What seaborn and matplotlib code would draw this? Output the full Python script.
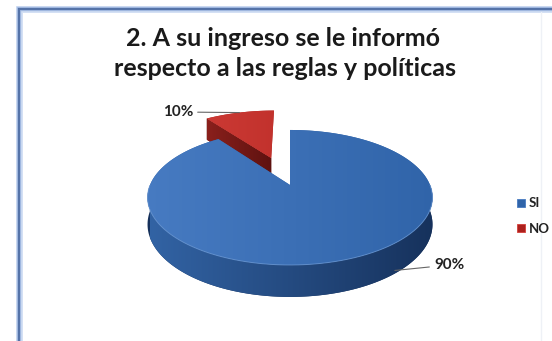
import numpy as np
import matplotlib
matplotlib.use("Agg")
import matplotlib.pyplot as plt
import seaborn as sns
from matplotlib.patches import Polygon, Patch
from matplotlib.colors import LinearSegmentedColormap

# ---------------- data ----------------
categories = ["SI", "NO"]
values = [90, 10]
pct_labels = ["90%", "10%"]
title_lines = ["2. A su ingreso se le informó", "respecto a las reglas y políticas"]

top_colors = {"SI": ("#477BC2", "#3064A9"), "NO": ("#D4403A", "#AC211D")}
side_colors = {"SI": ("#3263A4", "#16315B"), "NO": ("#8A201C", "#5E1210")}

sns.set_theme(style="white")
plt.rcParams["font.family"] = ["Lato", "DejaVu Sans"]

W, H = 552, 341
fig = plt.figure(figsize=(W / 100, H / 100), dpi=100)
fig.patch.set_facecolor("white")

bg = fig.add_axes([0, 0, 1, 1])
bg.set_xlim(0, W)
bg.set_ylim(H, 0)
bg.axis("off")

# frame (light blue glow + darker line)
for lw, col in [(5.0, "#D3E0F4"), (3.2, "#A9C0E6"), (1.6, "#5573A8")]:
    bg.plot([19, 19, W + 5], [H + 5, 9, 9], color=col, lw=lw, solid_joinstyle="miter", zorder=1)
bg.plot([541, 541], [12, H], color="#EEF1F6", lw=1.0, zorder=1)

# title
fig.text(283 / W, 1 - 38 / H, title_lines[0], ha="center", va="center",
         fontsize=18, fontweight="bold", color="#1A1A1A")
fig.text(285 / W, 1 - 68 / H, title_lines[1], ha="center", va="center",
         fontsize=18, fontweight="bold", color="#1A1A1A")

# ---------------- pie via matplotlib/seaborn ----------------
axp = fig.add_axes([0.3, 0.3, 0.2, 0.2])
wedges, _ = axp.pie(values, startangle=90, counterclock=False,
                    explode=[0, 0.47], radius=1)
axp.set_visible(False)

# perspective projection of the unit-disk pie onto the page
CX, CY, RX, RY, K, D = 290, 185, 140, 65.2, 0.185, 26


def proj(x, y, z=0.0):
    x = np.asarray(x, float)
    y = np.asarray(y, float)
    s = 1.0 / (1.0 + K * y)
    return CX + RX * x * s, CY - RY * y * s + D * z * s


def grad_fill(poly_xy, c0, c1, zorder, x0=None, x1=None):
    poly = Polygon(np.column_stack(poly_xy), closed=True, facecolor=c1,
                   edgecolor="none", zorder=zorder)
    bg.add_patch(poly)
    xs, ys = poly_xy
    x0 = xs.min() if x0 is None else x0
    x1 = xs.max() if x1 is None else x1
    cmap = LinearSegmentedColormap.from_list("g", [c0, c1])
    img = np.linspace(0, 1, 256)[None, :]
    im = bg.imshow(img, cmap=cmap, aspect="auto",
                   extent=(x0, x1, ys.max() + 1, ys.min() - 1),
                   zorder=zorder + 0.01, interpolation="bilinear")
    im.set_clip_path(poly)
    return poly


order = sorted(range(len(wedges)),
               key=lambda i: -np.sin(np.radians((wedges[i].theta1 + wedges[i].theta2) / 2)))
z = 2
for i in order:
    w = wedges[i]
    name = categories[i]
    ox, oy = w.center
    t1, t2 = w.theta1, w.theta2
    th = np.radians(np.linspace(t1, t2, 400))
    # radial cut faces
    for phi, sign in [(t2, 1), (t1, -1)]:
        p = np.radians(phi)
        ny_dir = sign * np.cos(p)
        if ny_dir < -1e-6:
            ex, ey = ox + np.cos(p), oy + np.sin(p)
            xs = np.array([ox, ex, ex, ox])
            ys = np.array([oy, ey, ey, oy])
            zs = np.array([0, 0, 1, 1])
            px, py = proj(xs, ys, zs)
            grad_fill((px, py), side_colors[name][0], side_colors[name][1], z)
    # outer curved side
    vis = np.sin(th) < 0
    if vis.any():
        tv = th[vis]
        ax_, ay_ = ox + np.cos(tv), oy + np.sin(tv)
        tx, ty = proj(ax_, ay_, 0)
        bx, by = proj(ax_, ay_, 1)
        px = np.concatenate([tx, bx[::-1]])
        py = np.concatenate([ty, by[::-1]])
        grad_fill((px, py), side_colors[name][0], side_colors[name][1], z + 0.2,
                  x0=CX - RX, x1=CX + RX * 1.05)
    # top face
    xs = np.concatenate([[ox], ox + np.cos(th), [ox]])
    ys = np.concatenate([[oy], oy + np.sin(th), [oy]])
    px, py = proj(xs, ys, 0)
    grad_fill((px, py), top_colors[name][0], top_colors[name][1], z + 0.4,
              x0=CX - RX * 1.05, x1=CX + RX * 1.05)
    if vis.any():
        tx, ty = proj(ox + np.cos(th[vis]), oy + np.sin(th[vis]), 0)
        bg.plot(tx, ty, color="#6E9BD6" if name == "SI" else "#D9605A",
                lw=0.7, alpha=0.7, zorder=z + 0.5)
    z += 1

# percentage labels with leader lines
for i, w in enumerate(wedges):
    mid = np.radians((w.theta1 + w.theta2) / 2)
    ox, oy = w.center
    if categories[i] == "NO":
        ax_, ay_ = proj(ox + np.cos(mid), oy + np.sin(mid), 0)
        bg.annotate(pct_labels[i], xy=(ax_, ay_), xytext=(193, 112),
                    textcoords="data", ha="right", va="center", fontsize=11,
                    fontweight="bold", color="#222222", zorder=10,
                    arrowprops=dict(arrowstyle="-", color="#666666", lw=0.8,
                                    shrinkA=1, shrinkB=0))
    else:
        a = np.radians(-50)
        ax_, ay_ = proj(ox + np.cos(a), oy + np.sin(a), 0.9)
        bg.annotate(pct_labels[i], xy=(ax_, ay_), xytext=(434, 265),
                    textcoords="data", ha="left", va="center", fontsize=11,
                    fontweight="bold", color="#222222", zorder=10,
                    arrowprops=dict(arrowstyle="-", color="#666666", lw=0.8,
                                    shrinkA=1, shrinkB=0))

# legend
handles = [Patch(facecolor=top_colors[c][1], edgecolor=top_colors[c][0], lw=0.6)
           for c in categories]
fig.legend(handles, categories, loc="center left",
           bbox_to_anchor=(505 / W, 1 - 216 / H), frameon=False,
           handlelength=0.6, handleheight=0.6, handletextpad=0.3,
           labelspacing=1.0, prop=dict(size=9.5, weight="bold"),
           labelcolor="#222222")

fig.savefig("out.png", dpi=100, facecolor="white")
